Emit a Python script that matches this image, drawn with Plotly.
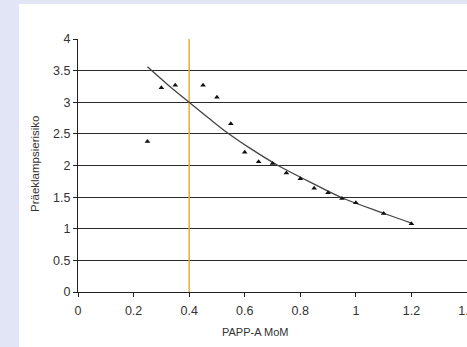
import plotly.graph_objects as go

# Data
papp_x = [0.25, 0.30, 0.35, 0.45, 0.50, 0.55, 0.60, 0.65, 0.70, 0.75, 0.80, 0.85, 0.90, 0.95, 1.00, 1.10, 1.20]
risk_y = [2.38, 3.23, 3.27, 3.27, 3.08, 2.66, 2.21, 2.06, 2.03, 1.88, 1.79, 1.64, 1.57, 1.48, 1.41, 1.24, 1.08]

trend_x = [0.25, 0.325, 0.40, 0.47, 0.54, 0.62, 0.72, 0.83, 0.95, 1.10, 1.20]
trend_y = [3.56, 3.27, 3.00, 2.75, 2.51, 2.27, 2.00, 1.75, 1.49, 1.245, 1.09]

cutoff_x = [0.4, 0.4]
cutoff_y = [0, 4]

x_ticks = [0, 0.2, 0.4, 0.6, 0.8, 1.0, 1.2, 1.4]
x_tick_labels = ["0", "0.2", "0.4", "0.6", "0.8", "1", "1.2", "1.4"]
y_ticks = [0, 0.5, 1, 1.5, 2, 2.5, 3, 3.5, 4]
y_tick_labels = ["0", "0.5", "1", "1.5", "2", "2.5", "3", "3.5", "4"]

font_family = "Liberation Sans, Arial, sans-serif"
bg = "#e1e5f5"

fig = go.Figure()
fig.add_trace(go.Scatter(x=cutoff_x, y=cutoff_y, mode="lines",
                         line=dict(color="#eeaa33", width=1.5), hoverinfo="skip"))
fig.add_trace(go.Scatter(x=trend_x, y=trend_y, mode="lines", line_shape="spline",
                         line=dict(color="#444444", width=1.3, smoothing=1)))
fig.add_trace(go.Scatter(x=papp_x, y=risk_y, mode="markers",
                         marker=dict(symbol="triangle-up", size=5, color="#111111")))

L, T = 78, 39
W, H = 467, 347
plot_w = W - L
plot_h = 292 - T

fig.add_shape(type="rect", xref="paper", yref="paper",
              x0=(19 - L) / plot_w, x1=1.05,
              y0=(292 - H) / plot_h - 0.05, y1=(292 - 4) / plot_h,
              fillcolor="white", line_width=0, layer="below")

fig.update_layout(
    template="none",
    width=W, height=H,
    margin=dict(l=L, r=0, t=T, b=H - 292, autoexpand=False),
    paper_bgcolor=bg,
    plot_bgcolor="white",
    showlegend=False,
    font=dict(family=font_family, color="#333333", size=12),
    xaxis=dict(range=[0, 1.4], tickvals=x_ticks, ticktext=x_tick_labels,
               automargin=False, ticklabeloverflow="allow", ticklabelstandoff=3,
               showgrid=False, zeroline=False, showline=True, linecolor="#222222", linewidth=1,
               ticks="outside", ticklen=4, tickcolor="#222222",
               tickfont=dict(size=12.5, color="#333333")),
    yaxis=dict(range=[0, 4], tickvals=y_ticks, ticktext=y_tick_labels,
               automargin=False,
               showgrid=True, gridcolor="#2a2a2a", gridwidth=1, zeroline=False,
               showline=True, linecolor="#222222", linewidth=1,
               ticks="outside", ticklen=4, tickcolor="#222222",
               tickfont=dict(size=12.5, color="#333333")),
    annotations=[
        dict(text="PAPP-A MoM", xref="paper", yref="paper",
             x=(255 - L) / plot_w, y=(292 - 332) / plot_h,
             showarrow=False, font=dict(size=11, color="#333333"),
             xanchor="center", yanchor="middle"),
        dict(text="Präeklampsierisiko", xref="paper", yref="paper",
             x=(35 - L) / plot_w, y=(292 - 164) / plot_h, textangle=-90,
             showarrow=False, font=dict(size=11.5, color="#333333"),
             xanchor="center", yanchor="middle"),
    ],
)

fig.write_html("out.html", config={"displayModeBar": False},
               post_script="document.body.style.margin='0';document.body.style.overflow='hidden';document.body.style.background='" + bg + "';")
